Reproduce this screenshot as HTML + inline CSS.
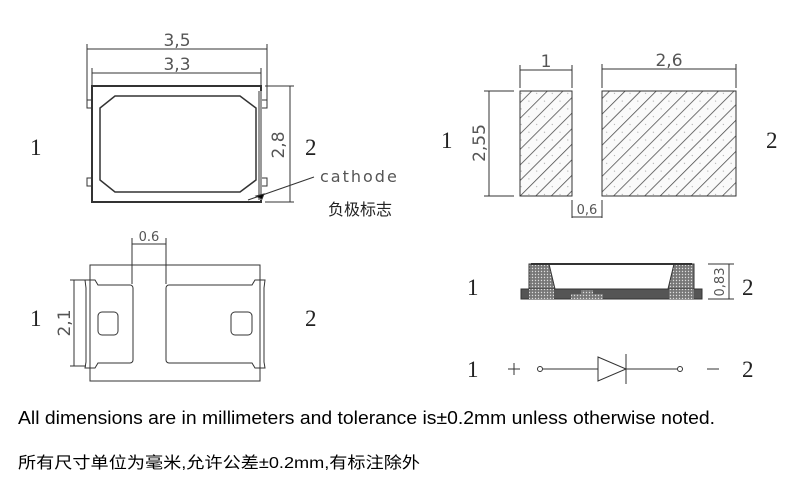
<!DOCTYPE html>
<html><head><meta charset="utf-8"><style>
body{margin:0;background:#fff;width:800px;height:500px;overflow:hidden}
svg{display:block}
.d{font-family:"DejaVu Sans","Liberation Sans",sans-serif;fill:#555}
.n{font-family:"Liberation Serif",serif;fill:#222}
</style></head><body>
<svg width="800" height="500" viewBox="0 0 800 500">
<defs>
<pattern id="h" width="11" height="11" patternUnits="userSpaceOnUse" patternTransform="rotate(-45)">
<rect width="11" height="11" fill="#fafafa"/><line x1="0" y1="0" x2="11" y2="0" stroke="#444" stroke-width="1.5"/>
<circle cx="5.5" cy="5.5" r="0.6" fill="#aaa"/></pattern>
<pattern id="s" width="3" height="3" patternUnits="userSpaceOnUse"><rect width="3" height="3" fill="#777"/><circle cx="1.5" cy="1.5" r="0.7" fill="#ddd"/></pattern>
</defs>
<g stroke="#333" fill="none" stroke-width="1">
<line x1="87" y1="44" x2="87" y2="104"/><line x1="267" y1="44" x2="267" y2="104"/>
<line x1="87" y1="49" x2="267" y2="49"/><line x1="92" y1="68" x2="92" y2="90"/><line x1="261" y1="68" x2="261" y2="90"/>
<line x1="92" y1="73" x2="261" y2="73"/>
<rect x="92" y="86" width="169" height="116" stroke-width="2"/>
<path d="M92 100 h-5 v8 h5 M92 178 h-5 v8 h5 M261 100 h6 v8 h-6 M261 178 h6 v8 h-6"/>
<rect x="258" y="91" width="4" height="109" fill="#999" stroke="none"/>
<path d="M115 96 H240 L256 108 V180 L240 192 H115 L100 180 V108 Z" stroke-width="1.5"/>
<line x1="265" y1="86" x2="294" y2="86"/><line x1="265" y1="202" x2="294" y2="202"/>
<line x1="290" y1="86" x2="290" y2="202"/>
<line x1="248" y1="200" x2="314" y2="177"/>
<path d="M256 196 l8 -2 l-2 5z" fill="#000"/>
<rect x="90" y="265" width="170" height="116"/>
<path d="M85 280 h10 l3 5 h32 a3 3 0 0 1 3 3 v72 a3 3 0 0 1 -3 3 h-32 l-3 5 h-10 l1 -6 v-74 z"/>
<path d="M265 280 h-10 l-3 5 h-83 a3 3 0 0 0 -3 3 v72 a3 3 0 0 0 3 3 h83 l3 5 h10 l-1 -6 v-74 z"/>
<line x1="132" y1="238" x2="132" y2="284"/><line x1="166" y1="238" x2="166" y2="284"/>
<line x1="132" y1="244" x2="166" y2="244"/>
<rect x="98" y="312" width="20" height="23" rx="4"/><rect x="231" y="312" width="21" height="23" rx="4"/>
<line x1="74" y1="280" x2="74" y2="366"/><line x1="70" y1="280" x2="86" y2="280"/><line x1="70" y1="366" x2="86" y2="366"/>
<rect x="520" y="91" width="52" height="105" fill="url(#h)"/>
<rect x="602" y="91" width="134" height="105" fill="url(#h)"/>
<line x1="520" y1="65" x2="520" y2="88"/><line x1="572" y1="65" x2="572" y2="88"/><line x1="520" y1="70" x2="572" y2="70"/>
<line x1="602" y1="64" x2="602" y2="88"/><line x1="736" y1="64" x2="736" y2="88"/><line x1="602" y1="69" x2="736" y2="69"/>
<line x1="484" y1="91" x2="514" y2="91"/><line x1="484" y1="196" x2="514" y2="196"/><line x1="489" y1="91" x2="489" y2="196"/>
<line x1="572" y1="200" x2="572" y2="218"/><line x1="602" y1="200" x2="602" y2="218"/><line x1="572" y1="217" x2="602" y2="217"/>
<rect x="521" y="289" width="181" height="10" fill="#555"/>
<path d="M529 264 L549 264 L555 289 L529 289 Z M694 264 L674 264 L668 289 L694 289 Z" fill="url(#s)" stroke="#333"/>
<rect x="529" y="289" width="25" height="10" fill="url(#s)" stroke="none"/><rect x="669" y="289" width="25" height="10" fill="url(#s)" stroke="none"/>
<path d="M571 299 v-5 h10 v-4 h12 v4 h10 v5z" fill="url(#s)" stroke="none"/>
<line x1="531" y1="264" x2="692" y2="264" stroke-width="2"/>
<line x1="708" y1="264" x2="734" y2="264"/><line x1="708" y1="299" x2="734" y2="299"/><line x1="729" y1="264" x2="729" y2="299"/>
<circle cx="540" cy="369" r="2.5"/><line x1="543" y1="369" x2="598" y2="369"/>
<path d="M598 357 L626 369 L598 381 Z"/><line x1="626" y1="354" x2="626" y2="384"/>
<line x1="626" y1="369" x2="677" y2="369"/><circle cx="680" cy="369" r="2.5"/>
<line x1="508" y1="369" x2="520" y2="369"/><line x1="514" y1="363" x2="514" y2="375"/>
<line x1="707" y1="369" x2="719" y2="369"/>
</g>
<g class="d" font-size="17">
<text x="177" y="46" text-anchor="middle">3,5</text>
<text x="177" y="70" text-anchor="middle">3,3</text>
<text x="0" y="0" transform="translate(284,145) rotate(-90)" text-anchor="middle">2,8</text>
<text x="320" y="182" letter-spacing="2" font-size="16">cathode</text>
<text x="0" y="0" transform="translate(70,323) rotate(-90)" text-anchor="middle">2,1</text>
<text x="546" y="67" text-anchor="middle">1</text>
<text x="669" y="66" text-anchor="middle">2,6</text>
<text x="0" y="0" transform="translate(485,143) rotate(-90)" text-anchor="middle">2,55</text>
</g>
<g class="d" font-size="13">
<text x="149" y="241" text-anchor="middle">0.6</text>
<text x="587" y="214" text-anchor="middle">0,6</text>
<text x="0" y="0" transform="translate(724,282) rotate(-90)" text-anchor="middle">0,83</text>
</g>
<text x="328" y="215" font-family="'Noto Sans CJK SC',sans-serif" font-size="16" fill="#222">负极标志</text>
<g class="n" font-size="23">
<text x="30" y="155">1</text><text x="305" y="155">2</text>
<text x="30" y="326">1</text><text x="305" y="326">2</text>
<text x="441" y="148">1</text><text x="766" y="148">2</text>
<text x="467" y="295">1</text><text x="742" y="295">2</text>
<text x="467" y="377">1</text><text x="742" y="377">2</text>
</g>
<text x="18" y="424" font-family="'Liberation Sans',sans-serif" font-size="18" fill="#000" textLength="697" lengthAdjust="spacingAndGlyphs">All dimensions are in millimeters and tolerance is±0.2mm unless otherwise noted.</text>
<text x="18" y="468" font-family="'Liberation Sans','Noto Sans CJK SC',sans-serif" font-size="16" fill="#000" textLength="402" lengthAdjust="spacingAndGlyphs">所有尺寸单位为毫米,允许公差±0.2mm,有标注除外</text>
</svg>
</body></html>
